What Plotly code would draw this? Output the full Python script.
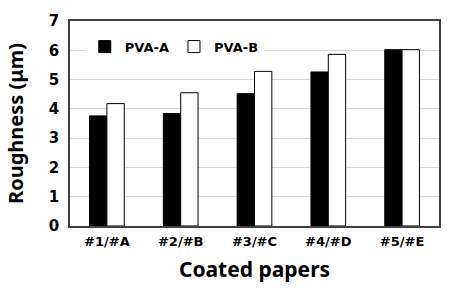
import plotly.graph_objects as go

categories = ["#1/#A", "#2/#B", "#3/#C", "#4/#D", "#5/#E"]
pva_a = [3.76, 3.84, 4.52, 5.26, 6.02]
pva_b = [4.18, 4.55, 5.28, 5.86, 6.02]
y_ticks = [0, 1, 2, 3, 4, 5, 6, 7]

fig = go.Figure()
fig.add_trace(go.Bar(x=categories, y=pva_a, name="PVA-A",
                     marker=dict(color="black", line=dict(color="black", width=1))))
fig.add_trace(go.Bar(x=categories, y=pva_b, name="PVA-B",
                     marker=dict(color="white", line=dict(color="black", width=1))))

fig.update_layout(
    width=453, height=292,
    margin=dict(l=70, r=12, t=13, b=66),
    paper_bgcolor="white", plot_bgcolor="white",
    barmode="group", bargap=0.53, bargroupgap=0,
    font=dict(family="DejaVu Sans", color="black"),
    legend=dict(orientation="h", x=0.04, y=0.875, xanchor="left", yanchor="middle",
                bgcolor="white", font=dict(size=13, family="DejaVu Sans", weight="bold"),
                itemwidth=30, tracegroupgap=0),
    xaxis=dict(showline=True, linecolor="#404040", linewidth=1.5, mirror=True,
               tickfont=dict(size=13, family="DejaVu Sans", weight="bold"),
               ticks="", ticklabelstandoff=3,
               title=dict(text="Coated papers", standoff=14,
                          font=dict(size=21, family="Noto Sans", weight="bold"))),
    yaxis=dict(range=[0, 7], tickvals=y_ticks, showline=True, linecolor="#404040",
               linewidth=1.5, mirror=True, showgrid=True, gridcolor="#d9d9d9",
               tickfont=dict(size=15, family="DejaVu Sans", weight="bold"),
               ticks="", ticklabelstandoff=6,
               title=dict(text="Roughness (μm)", standoff=20,
                          font=dict(size=20, family="Noto Sans", weight="bold"))),
)

fig.write_html("out.html")
